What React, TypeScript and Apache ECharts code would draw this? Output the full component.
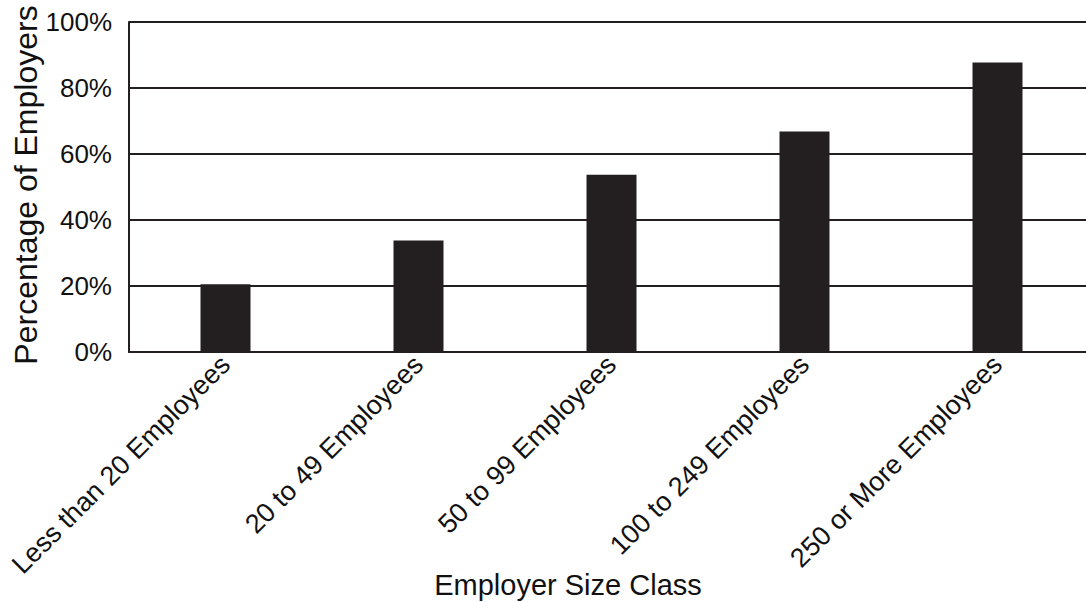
import React, { useEffect, useRef } from "react";
import * as echarts from "echarts";

const categories = [
  "Less than 20 Employees",
  "20 to 49 Employees",
  "50 to 99 Employees",
  "100 to 249 Employees",
  "250 or More Employees",
];
const percentages = [20.5, 33.8, 53.7, 66.8, 87.7];
const yTicks = { min: 0, max: 100, interval: 20 };
const xTitle = "Employer Size Class";
const yTitle = "Percentage of Employers";

const FONT = "'Liberation Sans', Arial, Helvetica, sans-serif";
const INK = "#231f20";

export default function App() {
  const ref = useRef<HTMLDivElement>(null);
  useEffect(() => {
    if (!ref.current) return;
    const chart = echarts.init(ref.current, undefined, { renderer: "svg" });
    chart.setOption({
      animation: false,
      backgroundColor: "#ffffff",
      grid: { left: 129, right: 0, top: 22, bottom: 250, containLabel: false },
      xAxis: {
        type: "category",
        data: categories,
        axisLine: { show: true, lineStyle: { color: INK, width: 2 } },
        axisTick: { show: false },
        axisLabel: {
          interval: 0,
          rotate: 45,
          margin: 8,
          fontFamily: FONT,
          fontSize: 27,
          color: "#111",
        },
      },
      yAxis: {
        type: "value",
        min: yTicks.min,
        max: yTicks.max,
        interval: yTicks.interval,
        axisLine: { show: true, lineStyle: { color: INK, width: 2 } },
        axisTick: { show: false },
        splitLine: { show: true, lineStyle: { color: INK, width: 2 } },
        axisLabel: {
          formatter: "{value}%",
          margin: 17,
          fontFamily: FONT,
          fontSize: 26,
          color: "#111",
        },
      },
      graphic: [
        {
          type: "text",
          x: 26,
          y: 185,
          rotation: Math.PI / 2,
          style: {
            text: yTitle,
            font: `32px ${FONT}`,
            fill: "#111",
            textAlign: "center",
            textVerticalAlign: "middle",
          },
        },
        {
          type: "text",
          x: 568,
          y: 585,
          style: {
            text: xTitle,
            font: `29px ${FONT}`,
            fill: "#111",
            textAlign: "center",
            textVerticalAlign: "middle",
          },
        },
      ],
      series: [
        {
          type: "bar",
          data: percentages,
          barWidth: 50,
          itemStyle: { color: INK },
        },
      ],
    });
    return () => chart.dispose();
  }, []);
  return (
    <div
      style={{
        position: "absolute",
        left: 0,
        top: 0,
        width: 1086,
        height: 602,
        overflow: "hidden",
      }}
    >
      <div ref={ref} style={{ width: 1094, height: 602 }} />
    </div>
  );
}
